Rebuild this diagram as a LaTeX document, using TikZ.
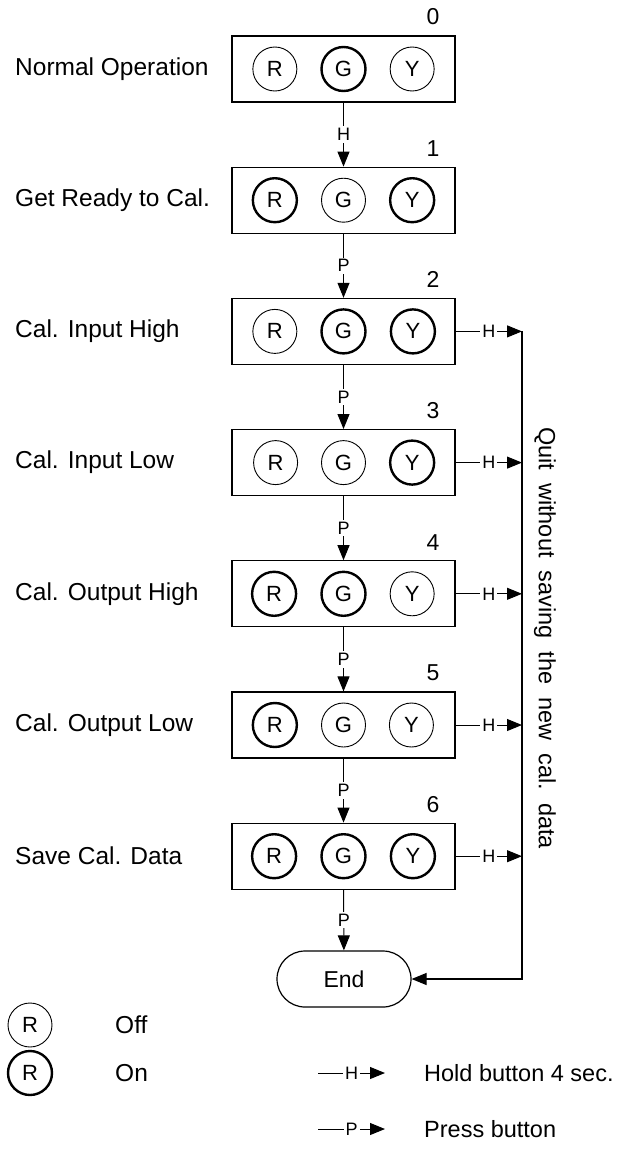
\documentclass[tikz,border=0pt]{standalone}
\usepackage{fontspec}
\setmainfont{Liberation Sans}
\usetikzlibrary{arrows.meta,positioning}

\begin{document}
\begin{tikzpicture}[x=1pt, y=-1pt,
  box/.style={draw, line width=1.2pt, minimum width=223pt, minimum height=66pt, inner sep=0pt},
  off/.style={draw, circle, line width=0.9pt, minimum size=44pt, inner sep=0pt, font=\fontsize{22}{26}\selectfont},
  on/.style={off, line width=2.4pt},
  lbl/.style={anchor=west, inner sep=0pt, font=\fontsize{24.5}{28}\selectfont},
  num/.style={inner sep=0pt, font=\fontsize{23}{26}\selectfont},
  key/.style={fill=white, inner sep=2pt, font=\fontsize{18}{20}\selectfont},
  arrow/.style={-{Triangle[length=15pt,width=12pt]}, line width=1pt}]
\useasboundingbox (0,0) rectangle (625,1149);
\coordinate (lm) at (15,0); \coordinate (qx) at (522,0);
% state boxes
\node[box] (box0) at (343.5,69) {};
\node[box, below=64pt of box0] (box1) {};
\node[box, below=64pt of box1] (box2) {};
\node[box, below=64pt of box2] (box3) {};
\node[box, below=64pt of box3] (box4) {};
\node[box, below=64pt of box4] (box5) {};
\node[box, below=64pt of box5] (box6) {};
\node[draw, line width=1.2pt, rounded corners=28pt, minimum width=134pt, minimum height=56pt, font=\fontsize{23}{26}\selectfont] (endbox) at (344,979) {End};
% lamps
\node[on] (g0) at (box0) {G}; \node[off, left=23pt of g0] (r0) {R}; \node[off, right=23pt of g0] (y0) {Y};
\node[off] (g1) at (box1) {G}; \node[on, left=23pt of g1] (r1) {R}; \node[on, right=23pt of g1] (y1) {Y};
\node[on] (g2) at (box2) {G}; \node[off, left=23pt of g2] (r2) {R}; \node[on, right=23pt of g2] (y2) {Y};
\node[off] (g3) at (box3) {G}; \node[off, left=23pt of g3] (r3) {R}; \node[on, right=23pt of g3] (y3) {Y};
\node[on] (g4) at (box4) {G}; \node[on, left=23pt of g4] (r4) {R}; \node[off, right=23pt of g4] (y4) {Y};
\node[off] (g5) at (box5) {G}; \node[on, left=23pt of g5] (r5) {R}; \node[off, right=23pt of g5] (y5) {Y};
\node[on] (g6) at (box6) {G}; \node[on, left=23pt of g6] (r6) {R}; \node[on, right=23pt of g6] (y6) {Y};
% step numbers
\node[num, above left=10pt and 16pt of box0.north east] {0};
\node[num, above left=10pt and 16pt of box1.north east] {1};
\node[num, above left=10pt and 16pt of box2.north east] {2};
\node[num, above left=10pt and 16pt of box3.north east] {3};
\node[num, above left=10pt and 16pt of box4.north east] {4};
\node[num, above left=10pt and 16pt of box5.north east] {5};
\node[num, above left=10pt and 16pt of box6.north east] {6};
% state names
\node[lbl] (t0) at (box0 -| lm) {Normal Operation};
\node[lbl] (t1) at (box1 -| lm) {Get Ready to Cal.};
\node[lbl] (t2) at (box2 -| lm) {Cal. Input High};
\node[lbl] (t3) at (box3 -| lm) {Cal. Input Low};
\node[lbl] (t4) at (box4 -| lm) {Cal. Output High};
\node[lbl] (t5) at (box5 -| lm) {Cal. Output Low};
\node[lbl] (t6) at (box6 -| lm) {Save Cal. Data};
% transitions
\draw[arrow] (box0) -- node[key]{H} (box1); \draw[arrow] (box1) -- node[key]{P} (box2);
\draw[arrow] (box2) -- node[key]{P} (box3); \draw[arrow] (box3) -- node[key]{P} (box4);
\draw[arrow] (box4) -- node[key]{P} (box5); \draw[arrow] (box5) -- node[key]{P} (box6);
\draw[arrow] (box6) -- node[key]{P} (endbox);
\draw[arrow] (box2) -- node[key]{H} (box2 -| qx); \draw[arrow] (box3) -- node[key]{H} (box3 -| qx);
\draw[arrow] (box4) -- node[key]{H} (box4 -| qx); \draw[arrow] (box5) -- node[key]{H} (box5 -| qx);
\draw[arrow] (box6) -- node[key]{H} (box6 -| qx);
\draw[arrow, line width=1.2pt] (box2 -| qx) |- (endbox);
\node[rotate=-90, font=\fontsize{23.5}{28}\selectfont] (quit) at (545,638) {Quit~~without~~saving~~the~~new~~cal.~~data};
% legend
\node[off] (koff) at (30,1025) {R}; \node[lbl] (toff) at (115,1025) {Off};
\node[on] (kon) at (30,1073) {R}; \node[lbl] (ton) at (115,1073) {On};
\coordinate (h1) at (318,1073); \coordinate (h2) at (385,1073);
\coordinate (p1) at (318,1129); \coordinate (p2) at (385,1129);
\draw[arrow] (h1) -- node[key]{H} (h2); \node[lbl, font=\fontsize{23.5}{28}\selectfont] (th) at (424,1073) {Hold button 4 sec.};
\draw[arrow] (p1) -- node[key]{P} (p2); \node[lbl, font=\fontsize{23.5}{28}\selectfont] (tp) at (424,1129) {Press button};
\end{tikzpicture}
\end{document}
